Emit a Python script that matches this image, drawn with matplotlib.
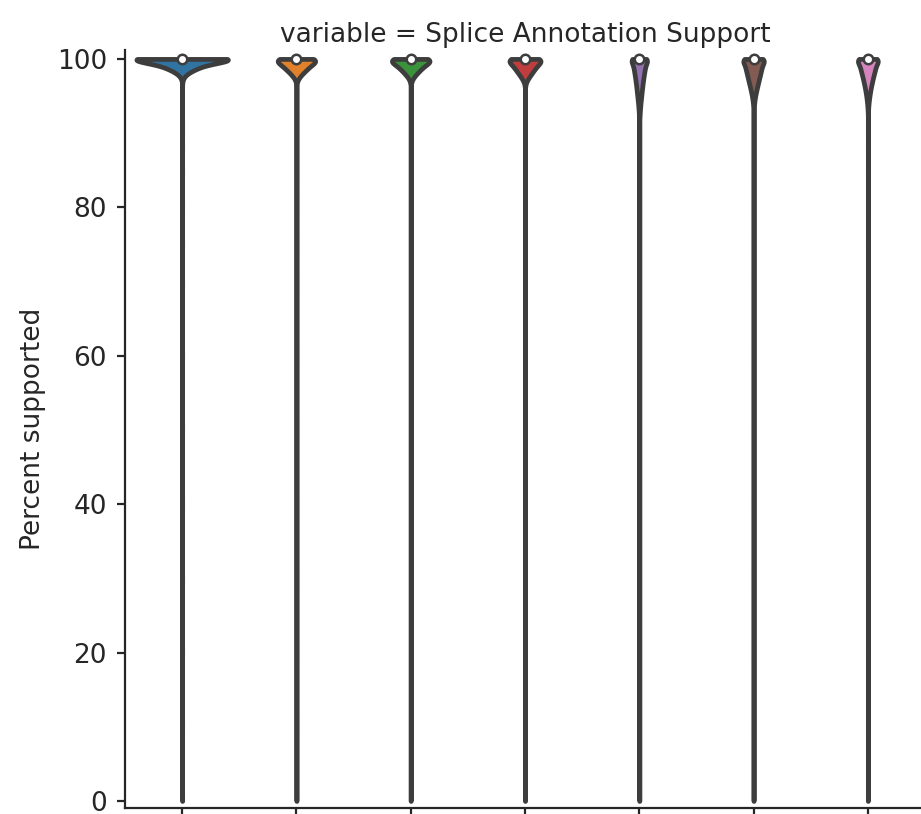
import colorsys
import matplotlib
matplotlib.use("Agg")
import matplotlib.pyplot as plt
import matplotlib.colors as mcolors
import numpy as np

#------------- data ---------------#
# percent-supported bins shared by every group
values = [100, 99.5, 99, 98.5, 98, 97.5, 97, 96.5, 96, 95.5, 95, 94.5, 94, 93.5, 93, 92.5, 92,
          91, 90, 88, 85, 80, 75, 70, 60, 50, 40, 30, 20, 10, 0]
tail = [3] * 14

# counts per bin for each of the 7 groups (top part, then the long tail)
counts_g1 = [4880, 1000, 1100, 550, 200, 50, 0, 0, 0, 0, 0, 0, 0, 0, 0, 0, 0] + tail
counts_g2 = [1500, 875, 685, 495, 305, 115, 15, 0, 0, 0, 0, 0, 0, 0, 0, 0, 0] + tail
counts_g3 = [1500, 900, 650, 480, 300, 120, 20, 0, 0, 0, 0, 0, 0, 0, 0, 0, 0] + tail
counts_g4 = [1230, 725, 590, 460, 325, 195, 60, 5, 0, 0, 0, 0, 0, 0, 0, 0, 0] + tail
counts_g5 = [640, 325, 300, 270, 240, 210, 185, 160, 140, 120, 100, 80, 60, 45, 30, 20, 10] + tail
counts_g6 = [820, 450, 425, 385, 340, 295, 250, 205, 160, 120, 80, 50, 30, 15, 5, 0, 0] + tail
counts_g7 = [800, 440, 400, 360, 310, 260, 220, 180, 140, 110, 80, 55, 35, 20, 10, 0, 0] + tail
groups = [counts_g1, counts_g2, counts_g3, counts_g4, counts_g5, counts_g6, counts_g7]
medians = [100, 100, 100, 100, 100, 100, 100]

yticks = [0, 20, 40, 60, 80, 100]
title = "variable = Splice Annotation Support"
ylabel = "Percent supported"
#------------ end data ------------#

BW = 0.5
LW = 3.4
TXT = "#262626"
plt.rcParams["font.family"] = ["DejaVu Sans"]


def desat(c, prop=0.75):
    h, l, s = colorsys.rgb_to_hls(*mcolors.to_rgb(c))
    return colorsys.hls_to_rgb(h, l, s * prop)


colors = [desat(c) for c in plt.get_cmap("tab10").colors[:7]]
lum = min(colorsys.rgb_to_hls(*c)[1] for c in colors) * 0.6
gray = (lum, lum, lum)


#kde of binned counts, evaluated only over the data range (cut=0)
def density(counts):
    v = np.array(values, float)
    c = np.array(counts, float)
    keep = c > 0
    v, c = v[keep], c[keep]
    y = np.linspace(v.min(), v.max(), 5000)
    k = np.exp(-0.5 * ((y[:, None] - v[None, :]) / BW) ** 2) / (BW * np.sqrt(2 * np.pi))
    return y, (k * c[None, :]).sum(axis=1)


dens = [density(c) for c in groups]
scale = 0.4 / max(d.max() for _, d in dens)

fig = plt.figure(figsize=(9.21, 8.14), dpi=100)
ax = fig.add_axes([125 / 921, 6 / 814, 800 / 921, 758 / 814])

for i, (y, d) in enumerate(dens):
    ax.fill_betweenx(y, i - d * scale, i + d * scale, facecolor=colors[i],
                     edgecolor=gray, linewidth=LW, joinstyle="round", zorder=1)
    ax.scatter(i, medians[i], s=(LW * 2) ** 2, color="white", edgecolor=gray,
               linewidth=1.8, zorder=3)

ax.set_xlim(-0.5, 6.5)
ax.set_ylim(-0.95, 101.2)
ax.set_xticks(range(len(groups)))
ax.set_xticklabels([])
ax.set_yticks(yticks)
ax.tick_params(axis="both", colors=TXT, labelcolor=TXT, labelsize=19,
               length=6, width=1.6, pad=7)
for side in ["top", "right"]:
    ax.spines[side].set_visible(False)
for side in ["left", "bottom"]:
    ax.spines[side].set_color(TXT)
    ax.spines[side].set_linewidth(1.6)

ax.set_ylabel(ylabel, fontsize=19, color=TXT, labelpad=8)
ax.set_title(title, fontsize=19, color=TXT, pad=6)

fig.savefig("out.png", dpi=100)
